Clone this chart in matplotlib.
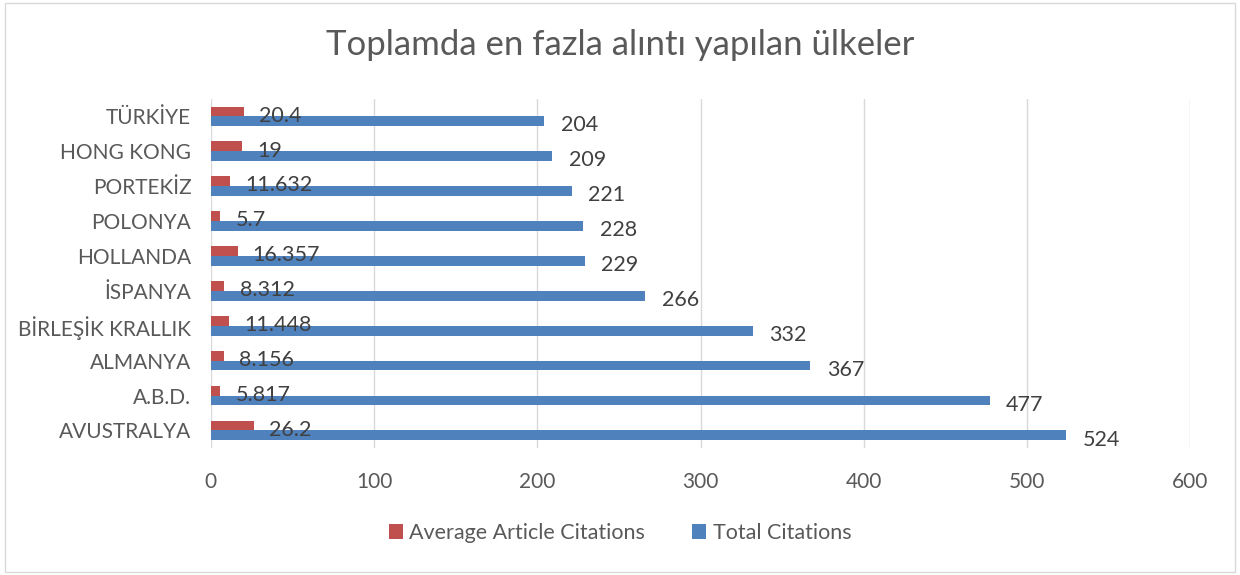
import numpy as np
import matplotlib.pyplot as plt
from matplotlib.patches import Rectangle

plt.rcParams['font.family'] = ['Lato', 'DejaVu Sans']

# Data (bottom to top)
countries = ['AVUSTRALYA', 'A.B.D.', 'ALMANYA', 'BİRLEŞİK KRALLIK', 'İSPANYA',
             'HOLLANDA', 'POLONYA', 'PORTEKİZ', 'HONG KONG', 'TÜRKİYE']
avg_citations = [26.2, 5.817, 8.156, 11.448, 8.312, 16.357, 5.7, 11.632, 19, 20.4]
avg_labels = ['26.2', '5.817', '8.156', '11.448', '8.312', '16.357', '5.7', '11.632', '19', '20.4']
total_citations = [524, 477, 367, 332, 266, 229, 228, 221, 209, 204]

red = '#c0504d'
blue = '#4f81bd'
text_col = '#595959'

fig = plt.figure(figsize=(12.4, 5.75), dpi=100)
fig.patches.append(Rectangle((0.004, 0.006), 0.992, 0.988, transform=fig.transFigure,
                             fill=False, edgecolor='#d9d9d9', linewidth=1))
ax = fig.add_axes([0.170, 0.221, 0.790, 0.607])

y = np.arange(len(countries))
h = 0.28
ax.barh(y + h / 2, avg_citations, height=h, color=red, label='Average Article Citations')
ax.barh(y - h / 2, total_citations, height=h, color=blue, label='Total Citations')

for yi, v, lab in zip(y, avg_citations, avg_labels):
    ax.annotate(lab, (v, yi + h / 2), xytext=(11, -3), textcoords='offset points',
                va='center', ha='left', fontsize=15.5, color='#404040')
for yi, v in zip(y, total_citations):
    ax.annotate(str(v), (v, yi - h / 2), xytext=(12, -3), textcoords='offset points',
                va='center', ha='left', fontsize=15.5, color='#404040')

ax.set_xlim(0, 600)
ax.set_ylim(-0.5, 9.5)
ax.set_xticks(range(0, 601, 100))
ax.set_yticks(y)
ax.set_yticklabels(countries)
ax.tick_params(axis='both', length=0, labelsize=15, colors=text_col)
ax.tick_params(axis='x', pad=17)
ax.tick_params(axis='y', pad=14)
ax.grid(axis='x', color='#d9d9d9', linewidth=1)
ax.set_axisbelow(True)
for s in ax.spines.values():
    s.set_visible(False)

fig.text(0.5, 0.922, 'Toplamda en fazla alıntı yapılan ülkeler', ha='center', va='center',
         fontsize=25, color=text_col)

handles, labels = ax.get_legend_handles_labels()
fig.legend(handles, labels, loc='center', bbox_to_anchor=(0.5, 0.073), ncol=2, frameon=False,
           fontsize=15.5, labelcolor=text_col, handlelength=0.65, handleheight=0.65,
           handletextpad=0.3, columnspacing=2.2)

fig.savefig('out.png', dpi=100)
